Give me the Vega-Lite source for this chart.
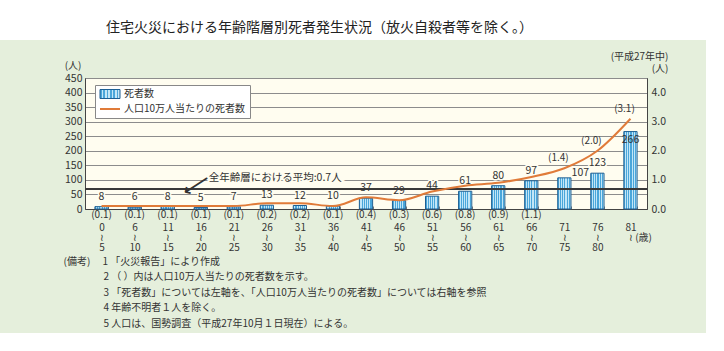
{
  "$schema": "https://vega.github.io/schema/vega-lite/v6.json",
  "background": "#e5efdc",
  "padding": {"left": 0, "top": 0, "right": 0, "bottom": 4},
  "spacing": 10,
  "config": {
    "font": "Noto Sans CJK JP",
    "view": {"fill": "#fffdf0", "stroke": "#555555", "strokeWidth": 1},
    "axis": {"labelColor": "#333333", "titleColor": "#333333", "labelFontSize": 10.5, "titleFontSize": 10, "titleFontWeight": "normal", "domainColor": "#444444", "labelOverlap": false}
  },
  "vconcat": [
    {
      "width": 706,
      "height": 40,
      "view": {"fill": "#ffffff", "stroke": null},
      "title": {
        "text": "住宅火災における年齢階層別死者発生状況（放火自殺者等を除く。）",
        "orient": "bottom",
        "anchor": "start",
        "frame": "group",
        "dx": 106,
        "offset": -19,
        "fontSize": 14,
        "fontWeight": "normal",
        "color": "#222222"
      },
      "data": {"values": []},
      "mark": "point",
      "encoding": {}
    },
    {
      "spacing": 0,
      "hconcat": [
        {
          "width": 62,
          "height": 1,
          "view": {"fill": null, "stroke": null},
          "data": {"values": []},
          "mark": "point",
          "encoding": {}
        },
        {
          "width": 562,
          "height": 131,
          "data": {
            "values": [
              {"age": "0〜5", "deaths": 8, "rate": 0.1, "rateLabel": "(0.1)"},
              {"age": "6〜10", "deaths": 6, "rate": 0.1, "rateLabel": "(0.1)"},
              {"age": "11〜15", "deaths": 8, "rate": 0.1, "rateLabel": "(0.1)"},
              {"age": "16〜20", "deaths": 5, "rate": 0.1, "rateLabel": "(0.1)"},
              {"age": "21〜25", "deaths": 7, "rate": 0.1, "rateLabel": "(0.1)"},
              {"age": "26〜30", "deaths": 13, "rate": 0.2, "rateLabel": "(0.2)"},
              {"age": "31〜35", "deaths": 12, "rate": 0.2, "rateLabel": "(0.2)"},
              {"age": "36〜40", "deaths": 10, "rate": 0.1, "rateLabel": "(0.1)"},
              {"age": "41〜45", "deaths": 37, "rate": 0.4, "rateLabel": "(0.4)"},
              {"age": "46〜50", "deaths": 29, "rate": 0.3, "rateLabel": "(0.3)"},
              {"age": "51〜55", "deaths": 44, "rate": 0.6, "rateLabel": "(0.6)"},
              {"age": "56〜60", "deaths": 61, "rate": 0.8, "rateLabel": "(0.8)"},
              {"age": "61〜65", "deaths": 80, "rate": 0.9, "rateLabel": "(0.9)"},
              {"age": "66〜70", "deaths": 97, "rate": 1.1, "rateLabel": "(1.1)"},
              {"age": "71〜75", "deaths": 107, "rate": 1.4, "rateLabel": "(1.4)"},
              {"age": "76〜80", "deaths": 123, "rate": 2.0, "rateLabel": "(2.0)"},
              {"age": "81〜", "deaths": 266, "rate": 3.1, "rateLabel": "(3.1)"}
            ]
          },
          "layer": [
            {
              "encoding": {
                "x": {
                  "field": "age", "type": "nominal", "sort": null,
                  "scale": {
                    "domain": ["0〜5", "6〜10", "11〜15", "16〜20", "21〜25", "26〜30", "31〜35", "36〜40", "41〜45", "46〜50", "51〜55", "56〜60", "61〜65", "66〜70", "71〜75", "76〜80", "81〜"],
                    "paddingInner": 0.6, "paddingOuter": 0.3
                  },
                  "axis": {
                    "labelAngle": 0,
                    "labelFontSize": 10,
                    "labelLineHeight": 10,
                    "labelPadding": 16,
                    "labelExpr": "datum.value == null ? '' : datum.value == '81〜' ? ['81', '\u200b\u3000\u00a0\u00a0\u00a0\u00a0≀ (歳)'] : [split(datum.value, '〜')[0], '≀', split(datum.value, '〜')[1]]",
                    "ticks": true,
                    "tickBand": "extent",
                    "tickSize": -3,
                    "tickColor": "#777777",
                    "title": [
                      "(備考)\u3000 1 「火災報告」により作成",
                      "\u200b\u3000\u3000\u3000\u30002 （ ）内は人口10万人当たりの死者数を示す。",
                      "\u200b\u3000\u3000\u3000\u30003 「死者数」については左軸を、「人口10万人当たりの死者数」については右軸を参照",
                      "\u200b\u3000\u3000\u3000\u30004 年齢不明者１人を除く。",
                      "\u200b\u3000\u3000\u3000\u30005 人口は、国勢調査（平成27年10月１日現在）による。"
                    ],
                    "titleAlign": "left",
                    "titleAnchor": "start",
                    "titleBaseline": "top",
                    "titleX": -22,
                    "titleY": 47,
                    "titleLineHeight": 15.5
                  }
                },
                "y": {
                  "field": "deaths", "type": "quantitative",
                  "scale": {"domain": [0, 450]},
                  "axis": {
                    "orient": "left",
                    "values": [0, 50, 100, 150, 200, 250, 300, 350, 400, 450],
                    "tickCount": 10,
                    "grid": true, "gridColor": "#8c8c8c", "gridWidth": 1,
                    "ticks": false, "labelPadding": 3,
                    "title": "(人)", "titleAngle": 0, "titleAlign": "right", "titleBaseline": "middle",
                    "titleX": -4, "titleY": -13
                  }
                }
              },
              "layer": [
                {
                  "mark": {
                    "type": "bar",
                    "stroke": "#1d5f93",
                    "strokeWidth": 1,
                    "fill": {
                      "gradient": "linear", "x1": 0, "y1": 0, "x2": 1, "y2": 0,
                      "stops": [
                        {"offset": 0, "color": "#4aa6da"}, {"offset": 0.083, "color": "#4aa6da"},
                        {"offset": 0.083, "color": "#c2e6f7"}, {"offset": 0.167, "color": "#c2e6f7"},
                        {"offset": 0.167, "color": "#4aa6da"}, {"offset": 0.25, "color": "#4aa6da"},
                        {"offset": 0.25, "color": "#c2e6f7"}, {"offset": 0.333, "color": "#c2e6f7"},
                        {"offset": 0.333, "color": "#4aa6da"}, {"offset": 0.417, "color": "#4aa6da"},
                        {"offset": 0.417, "color": "#c2e6f7"}, {"offset": 0.5, "color": "#c2e6f7"},
                        {"offset": 0.5, "color": "#4aa6da"}, {"offset": 0.583, "color": "#4aa6da"},
                        {"offset": 0.583, "color": "#c2e6f7"}, {"offset": 0.667, "color": "#c2e6f7"},
                        {"offset": 0.667, "color": "#4aa6da"}, {"offset": 0.75, "color": "#4aa6da"},
                        {"offset": 0.75, "color": "#c2e6f7"}, {"offset": 0.833, "color": "#c2e6f7"},
                        {"offset": 0.833, "color": "#4aa6da"}, {"offset": 0.917, "color": "#4aa6da"},
                        {"offset": 0.917, "color": "#c2e6f7"}, {"offset": 1, "color": "#c2e6f7"}
                      ]
                    }
                  },
                  "encoding": {
                    "stroke": {
                      "datum": "死者数",
                      "scale": {"domain": ["死者数", "人口10万人当たりの死者数"], "range": ["#1d5f93", "#e07b39"]},
                      "legend": {
                        "orient": "none", "legendX": 95, "legendY": 85,
                        "title": null,
                        "fillColor": "#ffffff", "strokeColor": "#888888",
                        "padding": 4, "rowPadding": 3,
                        "labelFontSize": 10, "labelColor": "#333333", "labelOffset": 9,
                        "symbolSize": 400,
                        "symbolOffset": 6,
                        "symbolType": {"expr": "datum.value === '死者数' ? 'M-1,-0.45H1V0.45H-1Z' : 'stroke'"},
                        "symbolFillColor": {"expr": "datum.value === '死者数' ? '#7cc3e8' : 'transparent'"},
                        "symbolStrokeWidth": {"expr": "datum.value === '死者数' ? 1 : 2"}
                      }
                    }
                  }
                },
                {
                  "transform": [{"filter": "datum.deaths < 200 && datum.age != '71〜75'"}],
                  "mark": {"type": "text", "dy": -10, "fontSize": 10.5, "color": "#fffdf0", "stroke": "#fffdf0", "strokeWidth": 3},
                  "encoding": {"text": {"field": "deaths"}}
                },
                {
                  "transform": [{"filter": "datum.deaths < 200 && datum.age != '71〜75'"}],
                  "mark": {"type": "text", "dy": -10, "fontSize": 10.5, "color": "#333333"},
                  "encoding": {"text": {"field": "deaths"}}
                },
                {
                  "transform": [{"filter": "datum.age == '71〜75'"}],
                  "mark": {"type": "text", "dx": 16, "dy": -5, "fontSize": 10.5, "color": "#333333"},
                  "encoding": {"text": {"field": "deaths"}}
                },
                {
                  "transform": [{"filter": "datum.deaths >= 200"}],
                  "mark": {"type": "text", "dy": 8, "fontSize": 10.5, "color": "#333333"},
                  "encoding": {"text": {"field": "deaths"}}
                },
                {
                  "transform": [{"filter": "datum.rate < 1.2"}],
                  "mark": {"type": "text", "dy": 6, "baseline": "middle", "fontSize": 10, "color": "#333333"},
                  "encoding": {
                    "y": {"datum": 0, "type": "quantitative"},
                    "text": {"field": "rateLabel"}
                  }
                }
              ]
            },
            {
              "encoding": {
                "x": {"field": "age", "type": "nominal", "sort": null},
                "y": {
                  "field": "rate", "type": "quantitative",
                  "scale": {"domain": [0, 4.5]},
                  "axis": {
                    "orient": "right",
                    "values": [0, 1, 2, 3, 4], "tickCount": 5, "format": ".1f",
                    "grid": false, "ticks": false, "labelPadding": 4,
                    "title": ["(平成27年中)", "(人)"],
                    "titleAngle": 0, "titleAlign": "right", "titleBaseline": "middle",
                    "titleX": 21, "titleY": -22, "titleLineHeight": 12
                  }
                }
              },
              "layer": [
                {
                  "mark": {"type": "rule", "color": "#3a3a3a", "strokeWidth": 1.3},
                  "encoding": {
                    "x": null,
                    "y": {"datum": 0.7, "type": "quantitative"}
                  }
                },
                {
                  "mark": {"type": "line", "interpolate": "monotone", "strokeWidth": 2},
                  "encoding": {
                    "stroke": {"datum": "人口10万人当たりの死者数"}
                  }
                },
                {
                  "transform": [{"filter": "datum.rate >= 1.2"}],
                  "mark": {"type": "text", "dx": -6, "dy": -10, "fontSize": 10, "color": "#333333"},
                  "encoding": {"text": {"field": "rateLabel"}}
                },
                {
                  "transform": [{"filter": "datum.age == '16〜20'"}],
                  "mark": {"type": "text", "align": "left", "baseline": "middle", "dx": 8, "dy": -11, "fontSize": 10.5, "color": "#fffdf0", "stroke": "#fffdf0", "strokeWidth": 4},
                  "encoding": {
                    "y": {"datum": 0.7, "type": "quantitative"},
                    "text": {"value": "全年齢層における平均:0.7人"}
                  }
                },
                {
                  "transform": [{"filter": "datum.age == '16〜20'"}],
                  "mark": {"type": "text", "align": "left", "baseline": "middle", "dx": 8, "dy": -11, "fontSize": 10.5, "color": "#333333"},
                  "encoding": {
                    "y": {"datum": 0.7, "type": "quantitative"},
                    "text": {"value": "全年齢層における平均:0.7人"}
                  }
                },
                {
                  "transform": [{"filter": "datum.age == '16〜20'"}],
                  "mark": {"type": "text", "align": "center", "baseline": "middle", "dx": -2, "dy": -5, "angle": 327, "fontSize": 20, "font": "DejaVu Sans", "color": "#333333"},
                  "encoding": {
                    "y": {"datum": 0.7, "type": "quantitative"},
                    "text": {"value": "⟵"}
                  }
                }
              ]
            }
          ],
          "resolve": {"scale": {"y": "independent"}}
        }
      ]
    }
  ]
}
